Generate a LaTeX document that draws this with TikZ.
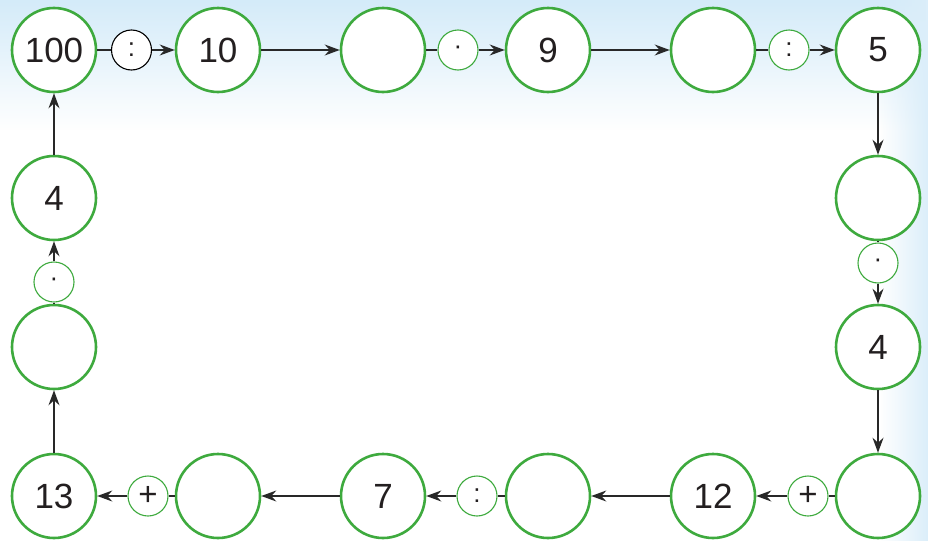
\documentclass[tikz,border=0pt]{standalone}
\usepackage{fontspec}
\setmainfont{Liberation Sans}
\usetikzlibrary{arrows.meta,fadings}
\definecolor{cgreen}{RGB}{62,170,62}
\definecolor{cline}{RGB}{40,40,40}
\definecolor{ctext}{RGB}{35,31,32}
\definecolor{bgblue}{RGB}{212,235,249}
\tikzfading[name=fadedown, top color=transparent!0, bottom color=transparent!100]
\tikzfading[name=faderight, left color=transparent!100, right color=transparent!0]
\begin{document}
\begin{tikzpicture}[x=1pt,y=-1pt,
  big/.style={circle,draw=cgreen,line width=2.6pt,fill=white,minimum size=84pt,inner sep=0pt,
    font=\fontsize{35}{40}\selectfont,text=ctext},
  op/.style={circle,draw=cgreen,line width=1.1pt,fill=white,minimum size=40pt,inner sep=0pt,
    font=\fontsize{26}{30}\selectfont,text=ctext},
  plusop/.style={op,font=\fontsize{33}{36}\selectfont},
  link/.style={draw=cline,line width=1.3pt},
  arr/.style={link,-{Stealth[length=15pt,width=11pt,inset=5pt]}}]
\useasboundingbox (0,0) rectangle (928,541);
\fill[white] (0,0) rectangle (928,541);
\fill[bgblue,path fading=fadedown] (0,0) rectangle (928,130);
\fill[bgblue!85,path fading=faderight] (880,0) rectangle (928,541);
% top row
\node[big] (a1) at (54,50) {100};
\node[op,draw=black] (o1) at (131.5,50) {:};
\node[big] (a2) at (218,50) {10};
\node[big] (a3) at (383,50) {};
\node[op] (o2) at (458,50) {·};
\node[big] (a4) at (548,50) {9};
\node[big] (a5) at (713,50) {};
\node[op] (o3) at (789,50) {:};
\node[big] (a6) at (878,50) {5};
% right column
\node[big] (a7) at (878,198) {};
\node[op] (o4) at (878,263) {·};
\node[big] (a8) at (878,347) {4};
% bottom row
\node[big] (a9) at (878,496) {};
\node[plusop] (o5) at (808,496) {+};
\node[big] (a10) at (713,496) {12};
\node[big] (a11) at (548,496) {};
\node[op] (o6) at (477,496) {:};
\node[big] (a12) at (383,496) {7};
\node[big] (a13) at (218,496) {};
\node[plusop] (o7) at (148,496) {+};
\node[big] (a14) at (54,496) {13};
% left column
\node[big] (a15) at (54,347) {};
\node[op] (o8) at (54,282) {·};
\node[big] (a16) at (54,198) {4};
% connectors
\draw[link] (a1) -- (o1);
\draw[arr] (o1) -- (a2);
\draw[arr] (a2) -- (a3);
\draw[link] (a3) -- (o2);
\draw[arr] (o2) -- (a4);
\draw[arr] (a4) -- (a5);
\draw[link] (a5) -- (o3);
\draw[arr] (o3) -- (a6);
\draw[arr] (a6) -- (a7);
\draw[link] (a7) -- (o4);
\draw[arr] (o4) -- (a8);
\draw[arr] (a8) -- (a9);
\draw[link] (a9) -- (o5);
\draw[arr] (o5) -- (a10);
\draw[arr] (a10) -- (a11);
\draw[link] (a11) -- (o6);
\draw[arr] (o6) -- (a12);
\draw[arr] (a12) -- (a13);
\draw[link] (a13) -- (o7);
\draw[arr] (o7) -- (a14);
\draw[arr] (a14) -- (a15);
\draw[link] (a15) -- (o8);
\draw[arr] (o8) -- (a16);
\draw[arr] (a16) -- (a1);
\end{tikzpicture}
\end{document}
